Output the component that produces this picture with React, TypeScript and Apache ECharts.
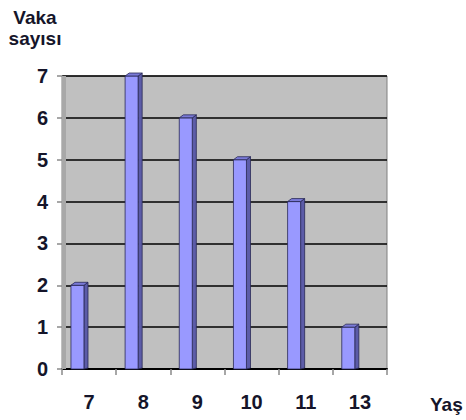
import React, { useEffect, useRef } from "react";
import * as echarts from "echarts";

const categories = ["7", "8", "9", "10", "11", "13"];
const values = [2, 7, 6, 5, 4, 1];
const yTicks = [0, 1, 2, 3, 4, 5, 6, 7];
const yTitle = ["Vaka", "sayısı"];
const xTitle = "Yaş";

const TEXT = "#15152a";
const FONT = "Liberation Sans, Arial, sans-serif";

export default function App() {
  const ref = useRef<HTMLDivElement>(null);
  useEffect(() => {
    if (!ref.current) return;
    const chart = echarts.init(ref.current, null, { renderer: "svg" });
    const option: any = {
      animation: false,
      backgroundColor: "#ffffff",
      grid: {
        left: 62,
        right: 79,
        top: 76,
        bottom: 51,
        show: true,
        backgroundColor: "#c0c0c0",
        borderColor: "#808080",
        borderWidth: 1,
      },
      xAxis: {
        type: "category",
        data: categories,
        boundaryGap: true,
        axisLine: { show: true, lineStyle: { color: "#000000", width: 2 } },
        axisTick: { show: true, alignWithLabel: false, length: 6, lineStyle: { color: "#8a8a8a", width: 1.5 } },
        axisLabel: {
          color: TEXT,
          fontFamily: FONT,
          fontWeight: "bold",
          fontSize: 20,
          margin: 23,
        },
        splitLine: { show: false },
      },
      yAxis: {
        type: "value",
        min: yTicks[0],
        max: yTicks[yTicks.length - 1],
        interval: 1,
        axisLine: { show: true, lineStyle: { color: "#808080", width: 1 } },
        axisTick: { show: true, length: 5, lineStyle: { color: "#8a8a8a", width: 1.5 } },
        axisLabel: {
          color: TEXT,
          fontFamily: FONT,
          fontWeight: "bold",
          fontSize: 20,
          margin: 14,
        },
        splitLine: { show: true, lineStyle: { color: "#000000", width: 1.5 } },
      },
      graphic: [
        {
          type: "rect",
          shape: { x: 62, y: 76, width: 4, height: 293 },
          style: { fill: "#a8a8a8" },
          z: 1,
        },
        {
          type: "text",
          x: 35,
          y: 17,
          style: {
            text: yTitle[0],
            fill: TEXT,
            font: `bold 19px ${FONT}`,
            textAlign: "center",
            textVerticalAlign: "middle",
          },
        },
        {
          type: "text",
          x: 35,
          y: 38,
          style: {
            text: yTitle[1],
            fill: TEXT,
            font: `bold 19px ${FONT}`,
            textAlign: "center",
            textVerticalAlign: "middle",
          },
        },
        {
          type: "text",
          x: 430,
          y: 404,
          style: {
            text: xTitle,
            fill: TEXT,
            font: `bold 19px ${FONT}`,
            textAlign: "left",
            textVerticalAlign: "middle",
          },
        },
      ],
      series: [
        {
          type: "custom",
          data: values.map((v, i) => [i, v]),
          encode: { x: 0, y: 1 },
          renderItem: (params: any, api: any) => {
            const idx = api.value(0);
            const val = api.value(1);
            const top = api.coord([idx, val]);
            const base = api.coord([idx, 0]);
            const bw = api.size([1, 0])[0];
            const L = top[0] - bw * 0.335;
            const fw = bw * 0.24;
            const sw = bw * 0.075;
            const R = L + fw;
            const d = 3;
            const topY = top[1];
            const baseY = base[1];
            return {
              type: "group",
              children: [
                {
                  type: "polygon",
                  shape: {
                    points: [
                      [R, topY],
                      [R + sw, topY - d],
                      [R + sw, baseY - 1],
                      [R, baseY],
                    ],
                  },
                  style: { fill: "#5c5ca8", stroke: "#2a2a55", lineWidth: 0.8 },
                },
                {
                  type: "rect",
                  shape: { x: L, y: topY, width: fw, height: baseY - topY },
                  style: { fill: "#9999ff", stroke: "#2a2a55", lineWidth: 0.8 },
                },
                {
                  type: "polygon",
                  shape: {
                    points: [
                      [L, topY],
                      [L + sw, topY - d],
                      [R + sw, topY - d],
                      [R, topY],
                    ],
                  },
                  style: { fill: "#7a7ad8", stroke: "#2a2a55", lineWidth: 0.8 },
                },
              ],
            };
          },
          z: 5,
        },
      ],
    };
    chart.setOption(option);
    return () => chart.dispose();
  }, []);
  return (
    <div
      ref={ref}
      style={{ position: "absolute", left: 0, top: 0, width: 466, height: 420 }}
    />
  );
}
